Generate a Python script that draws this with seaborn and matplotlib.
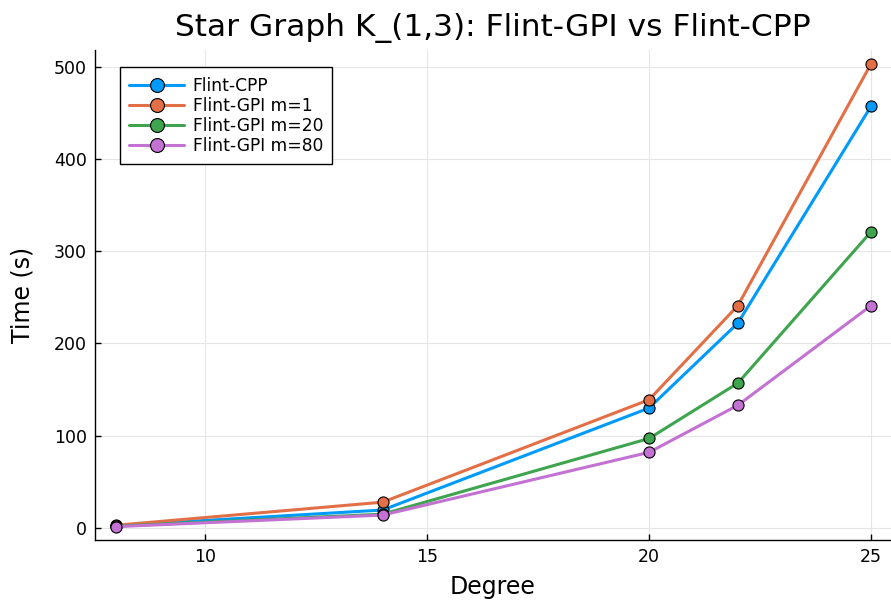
import numpy as np
import pandas as pd
import matplotlib.pyplot as plt
import seaborn as sns

degree = [8, 14, 20, 22, 25]
flint_cpp = [2.5, 19.5, 130, 222, 457]
gpi_m1 = [3, 28, 139, 241, 503]
gpi_m20 = [2, 15, 97, 157, 321]
gpi_m80 = [1.5, 14, 82, 133, 241]

series = ['Flint-CPP', 'Flint-GPI m=1', 'Flint-GPI m=20', 'Flint-GPI m=80']
colors = ['#009AFA', '#E36F47', '#3EA44E', '#C371D2']

df = pd.DataFrame({
    'Degree': degree * 4,
    'Time': flint_cpp + gpi_m1 + gpi_m20 + gpi_m80,
    'Series': np.repeat(series, len(degree)),
})

sns.set_style('white')
plt.rcParams['font.family'] = ['DejaVu Sans']
plt.rcParams['text.color'] = 'black'
plt.rcParams['axes.labelcolor'] = 'black'
plt.rcParams['xtick.color'] = 'black'
plt.rcParams['ytick.color'] = 'black'

fig = plt.figure(figsize=(8.91, 6.04), dpi=100)
ax = fig.add_axes([95 / 891, 64 / 604, 796 / 891, 490 / 604])

sns.lineplot(data=df, x='Degree', y='Time', hue='Series', palette=colors,
             marker='o', markersize=8, markeredgecolor='black', markeredgewidth=0.8,
             linewidth=2.2, ax=ax)

ax.set_xlim(7.52, 25.45)
ax.set_ylim(-13, 518)
ax.set_xticks([10, 15, 20, 25])
ax.set_yticks([0, 100, 200, 300, 400, 500])
ax.grid(True, color='#e6e6e6', linewidth=0.8)
ax.set_axisbelow(True)
for s in ['top', 'right']:
    ax.spines[s].set_visible(False)
for s in ['left', 'bottom']:
    ax.spines[s].set_color('black')
    ax.spines[s].set_linewidth(1)
ax.tick_params(axis='both', labelsize=12.5, direction='in', length=4, width=1,
               left=True, bottom=True, pad=6)
ax.set_xlabel('Degree', fontsize=17, labelpad=6)
ax.set_ylabel('Time (s)', fontsize=17, labelpad=14)
ax.set_title('Star Graph K_(1,3): Flint-GPI vs Flint-CPP', fontsize=22.5, pad=10)

leg = ax.legend(loc='upper left', bbox_to_anchor=(0.0314, 0.965), borderaxespad=0,
                fontsize=12.3, frameon=True, fancybox=False, edgecolor='black',
                framealpha=1, handlelength=3.2, handletextpad=0.5,
                borderpad=0.55, labelspacing=0.12)
leg.get_frame().set_linewidth(1)
for h in leg.legend_handles:
    h.set_markersize(10)

fig.savefig('out.png', dpi=100)
